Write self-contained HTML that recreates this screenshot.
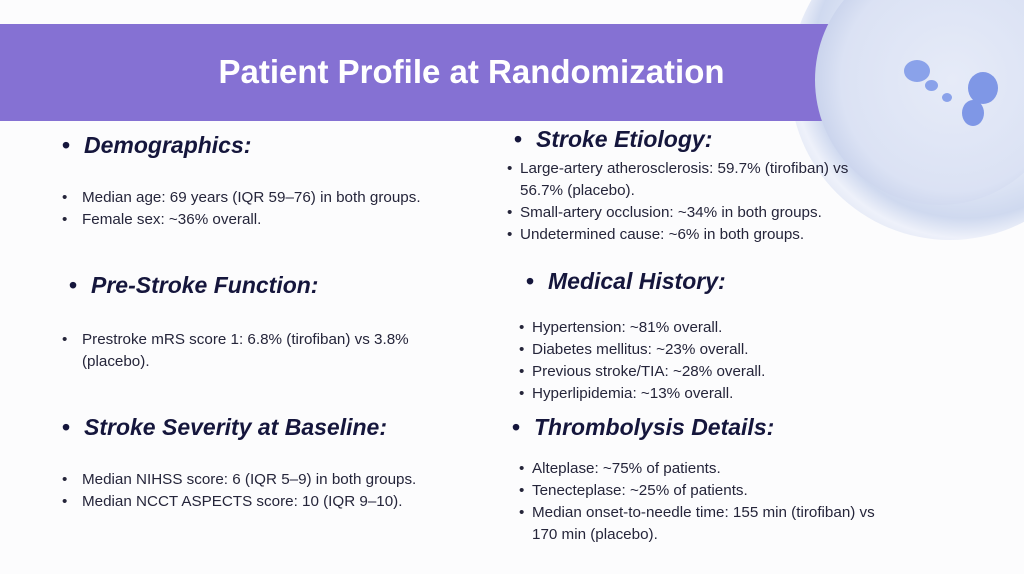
<!DOCTYPE html>
<html><head><meta charset="utf-8"><style>
body{margin:0;width:1024px;height:574px;overflow:hidden;background:#fcfcfd;font-family:"Liberation Sans",sans-serif;position:relative}
#clip{position:absolute;left:0;top:0;width:1024px;height:574px;overflow:hidden}
.abs{position:absolute;white-space:nowrap}
.h{font-weight:bold;font-style:italic;font-size:23px;color:#15163c;line-height:26px}
.t{font-size:15.2px;color:#25253a;line-height:22px}
.b{display:inline-block;width:20px}
.bs{display:inline-block;width:13px}
.hb{display:inline-block;width:22px;font-style:normal}
</style></head><body>
<div id="clip">
<div class="abs" style="left:790px;top:-80px;width:320px;height:320px;border-radius:50%;background:radial-gradient(circle at 55% 45%,#eef2fb 0,#e3e9f7 45%,#cfd9ef 62%,#eef1fa 70%,#dbe2f3 80%,rgba(240,242,250,0.6) 92%,rgba(252,252,253,0) 100%)"></div>
<div class="abs" style="left:0;top:24px;width:850px;height:97px;background:#8571d3"></div>
<div class="abs" style="left:815px;top:-45px;width:250px;height:250px;border-radius:50%;background:radial-gradient(circle at 55% 50%,#e6ebf8 0,#dbe2f4 60%,#c9d3ec 75%,rgba(232,236,248,0.9) 85%,rgba(232,236,248,0) 100%)"></div>
<div class="abs" style="left:904px;top:60px;width:26px;height:22px;border-radius:50%;background:#8aa2ea"></div>
<div class="abs" style="left:925px;top:80px;width:13px;height:11px;border-radius:50%;background:#8aa2ea"></div>
<div class="abs" style="left:942px;top:93px;width:10px;height:9px;border-radius:50%;background:#8aa2ea"></div>
<div class="abs" style="left:968px;top:72px;width:30px;height:32px;border-radius:50%;background:#7f97e6"></div>
<div class="abs" style="left:962px;top:100px;width:22px;height:26px;border-radius:50%;background:#7f97e6"></div>
<div class="abs" style="left:0;width:943px;top:51px;text-align:center;font-size:33px;font-weight:bold;color:#fff;line-height:42px">Patient Profile at Randomization</div>

<div class="abs h" style="left:62px;top:132px"><span class="hb">•</span>Demographics:</div>
<div class="abs t" style="left:62px;top:187px"><span class="b">•</span>Median age: 69 years (IQR 59–76) in both groups.<br><span class="b">•</span>Female sex: ~36% overall.</div>

<div class="abs h" style="left:69px;top:272px"><span class="hb">•</span>Pre-Stroke Function:</div>
<div class="abs t" style="left:62px;top:329px"><span class="b">•</span>Prestroke mRS score 1: 6.8% (tirofiban) vs 3.8%<br><span class="b"></span>(placebo).</div>

<div class="abs h" style="left:62px;top:414px"><span class="hb">•</span>Stroke Severity at Baseline:</div>
<div class="abs t" style="left:62px;top:469px"><span class="b">•</span>Median NIHSS score: 6 (IQR 5–9) in both groups.<br><span class="b">•</span>Median NCCT ASPECTS score: 10 (IQR 9–10).</div>

<div class="abs h" style="left:514px;top:126px"><span class="hb">•</span>Stroke Etiology:</div>
<div class="abs t" style="left:507px;top:158px"><span class="bs">•</span>Large-artery atherosclerosis: 59.7% (tirofiban) vs<br><span class="bs"></span>56.7% (placebo).<br><span class="bs">•</span>Small-artery occlusion: ~34% in both groups.<br><span class="bs">•</span>Undetermined cause: ~6% in both groups.</div>

<div class="abs h" style="left:526px;top:268px"><span class="hb">•</span>Medical History:</div>
<div class="abs t" style="left:519px;top:317px"><span class="bs">•</span>Hypertension: ~81% overall.<br><span class="bs">•</span>Diabetes mellitus: ~23% overall.<br><span class="bs">•</span>Previous stroke/TIA: ~28% overall.<br><span class="bs">•</span>Hyperlipidemia: ~13% overall.</div>

<div class="abs h" style="left:512px;top:414px"><span class="hb">•</span>Thrombolysis Details:</div>
<div class="abs t" style="left:519px;top:458px"><span class="bs">•</span>Alteplase: ~75% of patients.<br><span class="bs">•</span>Tenecteplase: ~25% of patients.<br><span class="bs">•</span>Median onset-to-needle time: 155 min (tirofiban) vs<br><span class="bs"></span>170 min (placebo).</div>
</div>
</body></html>
